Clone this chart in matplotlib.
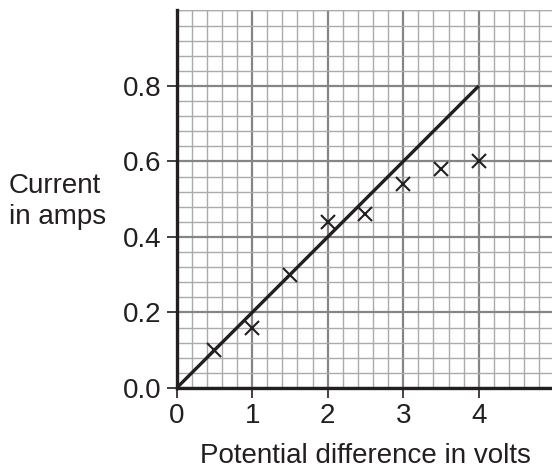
import matplotlib
matplotlib.use("Agg")
import matplotlib.pyplot as plt
import numpy as np
from matplotlib.ticker import MultipleLocator

plt.rcParams['font.family'] = ['Liberation Sans', 'DejaVu Sans']

# Data
voltage = [0.5, 1.0, 1.5, 2.0, 2.5, 3.0, 3.5, 4.0]
current = [0.10, 0.16, 0.30, 0.44, 0.46, 0.54, 0.58, 0.60]
fit_x = [0.0, 4.0]
fit_y = [0.0, 0.8]
xticks = [0, 1, 2, 3, 4]
yticks = [0.0, 0.2, 0.4, 0.6, 0.8]
ytick_labels = ["0.0", "0.2", "0.4", "0.6", "0.8"]

ink = '#231f20'
W, H = 552, 473
fig = plt.figure(figsize=(W / 100, H / 100), dpi=100)
ax = fig.add_axes([0.32, 0.1797, 0.68, 0.7983])
ax.set_xlim(0, 4.97)
ax.set_ylim(0, 1.0)

ax.xaxis.set_minor_locator(MultipleLocator(0.2))
ax.yaxis.set_minor_locator(MultipleLocator(0.04))
ax.set_xticks(xticks)
ax.set_yticks(yticks)
ax.set_yticklabels(ytick_labels)
ax.grid(which='minor', color='#ababab', lw=1.0, zorder=0)
ax.grid(which='major', color='#858585', lw=1.6, zorder=0)
ax.axhline(1.0, color='#ababab', lw=1.0, zorder=0)
ax.set_axisbelow(True)

ax.plot(fit_x, fit_y, color=ink, lw=2.4, solid_capstyle='butt', zorder=3)
ax.plot(voltage, current, linestyle='none', marker='x', color=ink,
        markersize=9.5, markeredgewidth=1.5, zorder=4)

for s in ['top', 'right']:
    ax.spines[s].set_visible(False)
for s in ['left', 'bottom']:
    ax.spines[s].set_color(ink)
    ax.spines[s].set_linewidth(2.4)
    ax.spines[s].set_zorder(5)

ax.tick_params(which='major', length=7, width=1.2, color=ink, labelsize=20,
               labelcolor=ink, pad=4)
ax.tick_params(which='minor', length=0)

fig.text(9 / W, 1 - 193 / H, "Current", fontsize=20, color=ink,
         ha='left', va='baseline')
fig.text(9 / W, 1 - 224 / H, "in amps", fontsize=20, color=ink,
         ha='left', va='baseline')
fig.text(365 / W, 1 - 463 / H, "Potential difference in volts", fontsize=20,
         color=ink, ha='center', va='baseline')

fig.savefig("out.png", dpi=100)
